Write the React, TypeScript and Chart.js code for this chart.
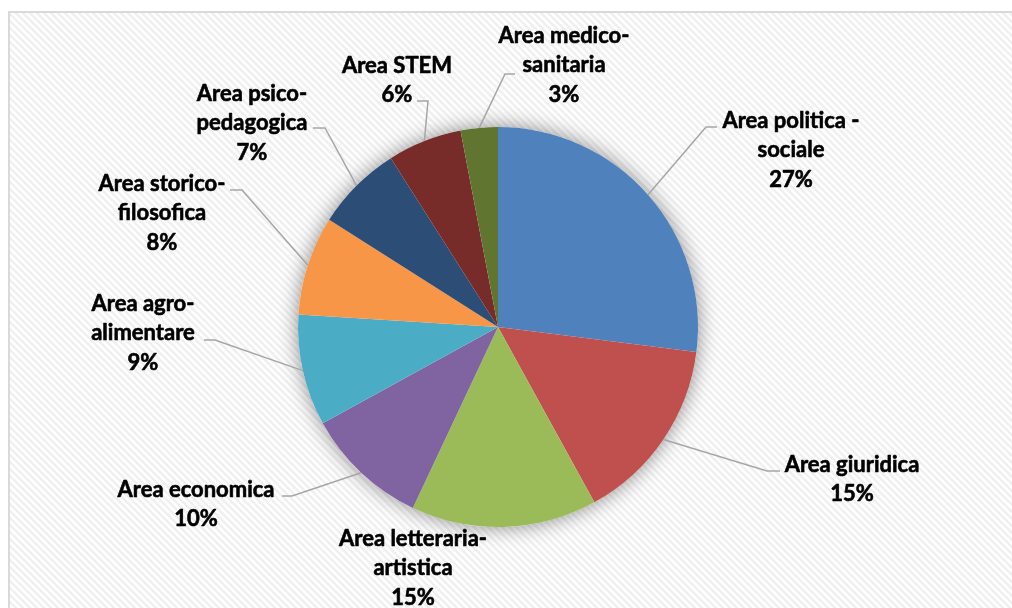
import React, { useEffect, useRef } from "react";
import { Chart, registerables } from "chart.js";

Chart.register(...registerables);

const categories: string[][] = [
  ["Area politica -", "sociale"],
  ["Area giuridica"],
  ["Area letteraria-", "artistica"],
  ["Area economica"],
  ["Area agro-", "alimentare"],
  ["Area storico-", "filosofica"],
  ["Area psico-", "pedagogica"],
  ["Area STEM"],
  ["Area medico-", "sanitaria"],
];

const values: number[] = [27, 15, 15, 10, 9, 8, 7, 6, 3];

const colors: string[] = [
  "#4F81BD",
  "#C0504D",
  "#9BBB59",
  "#8064A2",
  "#4BACC6",
  "#F79646",
  "#2C4D75",
  "#772C2A",
  "#5F7530",
];

// label layout: text centre x, first line centre y, leader bend and end points
const labelLayout = [
  { x: 791, y: 121, bend: [706, 127], end: [717, 127] },
  { x: 852, y: 465, bend: [767, 471], end: [780, 471] },
  { x: 413, y: 539, bend: null, end: null },
  { x: 196, y: 490, bend: [292, 496], end: [282, 496] },
  { x: 143, y: 304, bend: [215, 340], end: [204, 340] },
  { x: 162, y: 184, bend: [242, 190], end: [230, 190] },
  { x: 252, y: 94, bend: [325, 128], end: [313, 128] },
  { x: 397, y: 66, bend: [428, 101], end: [417, 101] },
  { x: 564, y: 36, bend: [505, 74], end: [515, 74] },
];

const FONT = "bold 22px Lato";
const LINE_H = 29.3;

const bgPlugin = {
  id: "bgPlugin",
  beforeDraw(chart: any) {
    const { ctx, width, height } = chart;
    ctx.save();
    ctx.fillStyle = "#ffffff";
    ctx.fillRect(0, 0, width, height);
    ctx.beginPath();
    ctx.rect(9, 12, width - 9, height - 12);
    ctx.clip();
    ctx.strokeStyle = "#f0f0f0";
    ctx.lineWidth = 2.5;
    for (let x = -height; x < width + 10; x += 7) {
      ctx.beginPath();
      ctx.moveTo(x, 12);
      ctx.lineTo(x + height, 12 + height);
      ctx.stroke();
    }
    ctx.restore();
    ctx.save();
    ctx.strokeStyle = "#d9d9d9";
    ctx.lineWidth = 2;
    ctx.strokeRect(9, 12, width + 20, height + 20);
    ctx.restore();
  },
  beforeDatasetsDraw(chart: any) {
    const meta = chart.getDatasetMeta(0);
    const a = meta.data[0];
    if (!a) return;
    const { x, y, outerRadius } = a.getProps(["x", "y", "outerRadius"], true);
    const ctx = chart.ctx;
    ctx.save();
    ctx.shadowColor = "rgba(0,0,0,0.45)";
    ctx.shadowBlur = 20;
    ctx.fillStyle = "#ffffff";
    ctx.beginPath();
    ctx.arc(x, y, outerRadius, 0, Math.PI * 2);
    ctx.fill();
    ctx.restore();
  },
  afterDatasetsDraw(chart: any) {
    const meta = chart.getDatasetMeta(0);
    const ctx = chart.ctx;
    const total = values.reduce((s, v) => s + v, 0);
    meta.data.forEach((el: any, i: number) => {
      const { x, y, startAngle, endAngle, outerRadius } = el.getProps(
        ["x", "y", "startAngle", "endAngle", "outerRadius"],
        true
      );
      const lay = labelLayout[i];
      const mid = (startAngle + endAngle) / 2;
      const sx = x + Math.cos(mid) * outerRadius;
      const sy = y + Math.sin(mid) * outerRadius;
      if (lay.bend && lay.end) {
        ctx.save();
        ctx.strokeStyle = "#a6a6a6";
        ctx.lineWidth = 1.5;
        ctx.beginPath();
        ctx.moveTo(sx, sy);
        ctx.lineTo(lay.bend[0], lay.bend[1]);
        ctx.lineTo(lay.end[0], lay.end[1]);
        ctx.stroke();
        ctx.restore();
      }
      const lines = [...categories[i], Math.round((values[i] / total) * 100) + "%"];
      ctx.save();
      ctx.font = FONT;
      ctx.fillStyle = "#000000";
      ctx.strokeStyle = "#000000";
      ctx.lineWidth = 0.6;
      ctx.lineJoin = "round";
      ctx.textAlign = "center";
      ctx.textBaseline = "middle";
      lines.forEach((t, k) => {
        ctx.fillText(t, lay.x, lay.y + k * LINE_H);
        ctx.strokeText(t, lay.x, lay.y + k * LINE_H);
      });
      ctx.restore();
    });
  },
};

export default function App() {
  const ref = useRef<HTMLCanvasElement | null>(null);
  useEffect(() => {
    if (!ref.current) return;
    const chart = new Chart(ref.current, {
      type: "pie",
      data: {
        labels: categories.map((c) => c.join(" ")),
        datasets: [
          {
            data: values,
            backgroundColor: colors,
            borderWidth: 0,
          },
        ],
      },
      options: {
        animation: false,
        responsive: false,
        devicePixelRatio: 1,
        layout: { padding: { left: 298, right: 314, top: 127, bottom: 81 } },
        plugins: {
          legend: { display: false },
          tooltip: { enabled: false },
        },
      },
      plugins: [bgPlugin],
    });
    return () => chart.destroy();
  }, []);
  return (
    <div style={{ position: "fixed", left: 0, top: 0, width: 1012, height: 608 }}>
      <canvas ref={ref} width={1012} height={608} style={{ width: 1012, height: 608 }} />
    </div>
  );
}
